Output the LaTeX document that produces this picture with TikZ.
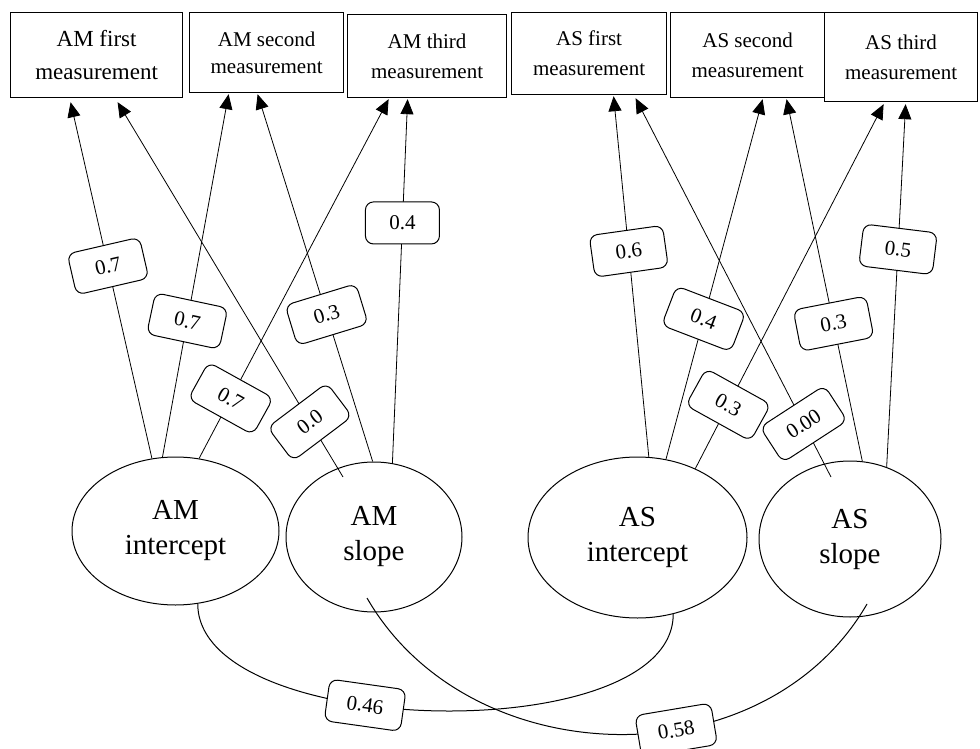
\documentclass[tikz,border=0pt]{standalone}
\usepackage{fontspec}
\setmainfont{Liberation Serif}
\usepackage{xcolor}
\usepackage{tikz}
\usetikzlibrary{shapes.geometric, arrows.meta, calc}

\begin{document}
\begin{tikzpicture}[
    x=0.5pt, y=-0.5pt,
    measure/.style={rectangle, draw, line width=0.6pt, anchor=north west, align=center, inner sep=0pt, font=\fontsize{10.5}{15}\selectfont},
    latent/.style={ellipse, draw, line width=0.5pt, inner sep=0pt, align=center, font=\fontsize{14.5}{17.5}\selectfont},
    loading/.style={draw, line width=0.4pt, -{Triangle[length=7.5pt, width=6.5pt]}},
    coef/.style={rectangle, rounded corners=4pt, draw, fill=white, line width=0.5pt, minimum width=37pt, minimum height=21pt, inner xsep=10pt, font=\fontsize{10.5}{12}\selectfont},
    covar/.style={draw, line width=0.5pt}
]
\useasboundingbox (0,0) rectangle (980,749);

\node[measure, minimum width=86pt, minimum height=42.5pt, font=\fontsize{11.5}{16.5}\selectfont] (amfirst) at (10,12) {AM first\\measurement};
\node[measure, minimum width=77pt, minimum height=40pt, font=\fontsize{10.5}{13.5}\selectfont] (amsecond) at (189,12) {AM second\\measurement};
\node[measure, minimum width=79.5pt, minimum height=41.5pt] (amthird) at (347,14) {AM third\\measurement};
\node[measure, minimum width=77.5pt, minimum height=41pt] (asfirst) at (511,12) {AS first\\measurement};
\node[measure, minimum width=77pt, minimum height=42.5pt] (assecond) at (670,12) {AS second\\measurement};
\node[measure, minimum width=76.5pt, minimum height=44.5pt] (asthird) at (824,12) {AS third\\measurement};

\node[latent, minimum width=103.5pt, minimum height=74pt] (amint) at (175.5,531) {AM\\intercept};
\node[latent, minimum width=88pt, minimum height=75pt] (amslope) at (374,537) {AM\\slope};
\node[latent, minimum width=109.5pt, minimum height=80.5pt] (asint) at (637.5,537.5) {AS\\intercept};
\node[latent, minimum width=91pt, minimum height=78pt] (asslope) at (850,539) {AS\\slope};

\draw[loading] (amint.108) -- node[coef, pos=0.54, rotate=13] {0.7} ($(amfirst.south)+(-26,4)$);
\draw[loading] (amint.100) -- node[coef, pos=0.375, rotate=-12] {0.7} ($(amsecond.south)+(-38,1)$);
\draw[loading] (amint.72) -- node[coef, pos=0.167, rotate=-29] {0.7} ($(amthird.south)+(-38.5,1)$);
\draw[loading] ($(amslope.center)+(-31,-60)$) -- node[coef, pos=0.147, rotate=37] {0.0} ($(amfirst.south)+(21,4)$);
\draw[loading] (amslope.91) -- node[coef, pos=0.40, rotate=17] {0.3} ($(amsecond.south)+(-9,1)$);
\draw[loading] (amslope.76) -- node[coef, pos=0.66] {0.4} ($(amthird.south)+(-19.5,1)$);

\draw[loading] (asint.82) -- node[coef, pos=0.57, rotate=8] {0.6} ($(asfirst.south)+(24.5,1)$);
\draw[loading] (asint.70) -- node[coef, pos=0.39, rotate=-21] {0.4} ($(assecond.south)+(15,1)$);
\draw[loading] (asint.50) -- node[coef, pos=0.175, rotate=-29] {0.3} ($(asthird.south)+(-17.5,2)$);
\draw[loading] ($(asslope.center)+(-19,-62)$) -- node[coef, pos=0.14, rotate=33] {0.00} ($(asfirst.south)+(46.5,3)$);
\draw[loading] (asslope.81) -- node[coef, pos=0.38, rotate=11] {0.3} ($(assecond.south)+(39,1)$);
\draw[loading] (asslope.63) -- node[coef, pos=0.60, rotate=-7] {0.5} ($(asthird.south)+(4.5,2)$);

\draw[covar] (amint.-73) to[out=-90, in=-90, looseness=0.73] node[coef, pos=0.4, sloped] {0.46} (asint.-65);
\draw[covar] ($(amslope.center)+(-7,61)$) to[out=-60, in=-120, looseness=1.05] node[coef, pos=0.6, sloped] {0.58} ($(asslope.center)+(17,65)$);

\end{tikzpicture}
\end{document}
